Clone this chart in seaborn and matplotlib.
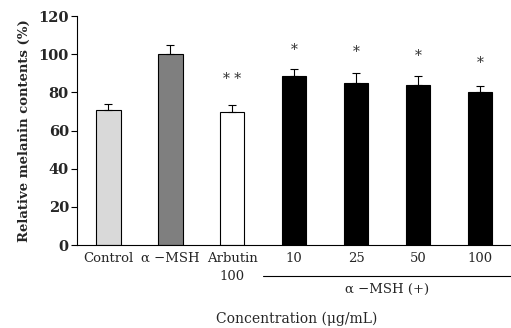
import matplotlib
matplotlib.use("Agg")
import matplotlib.pyplot as plt
import seaborn as sns
import pandas as pd
import numpy as np

categories = ["Control", "α −MSH", "Arbutin\n100", "10", "25", "50", "100"]
values = [71, 100, 69.5, 88.5, 85, 84, 80]
errors = [3, 5, 4, 3.5, 5, 4.5, 3.5]
bar_colors = ["#d9d9d9", "#7f7f7f", "#ffffff", "#000000", "#000000", "#000000", "#000000"]
sig_marks = ["", "", "* *", "*", "*", "*", "*"]
sig_y = [None, None, 87, 102, 101, 99, 95.5]
yticks = [0, 20, 40, 60, 80, 100, 120]

sns.set_style("white")
plt.rcParams["font.family"] = ["DejaVu Serif"]

df = pd.DataFrame({"cat": categories, "val": values})

fig = plt.figure(figsize=(5.11, 3.28), dpi=100)
ax = fig.add_axes([0.151, 0.253, 0.849, 0.698])

sns.barplot(data=df, x="cat", y="val", hue="cat", palette=bar_colors,
            legend=False, edgecolor="black", linewidth=0.8, width=0.4,
            errorbar=None, ax=ax, saturation=1)
xs = np.arange(len(categories))
ax.errorbar(xs, values, yerr=[np.zeros(len(errors)), errors], fmt="none",
            ecolor="black", elinewidth=0.8, capsize=3, capthick=0.8)

for x, m, y in zip(xs, sig_marks, sig_y):
    if m:
        ax.text(x, y, m, ha="center", va="center", fontsize=10, color="#333333")

ax.set_ylim(0, 120)
ax.set_xlim(-0.5, 6.5)
ax.set_yticks(yticks)
ax.set_yticklabels([str(t) for t in yticks], fontsize=10.5, fontweight="bold")
ax.set_xticks(xs)
ax.set_xticklabels(categories, fontsize=9.5, linespacing=1.5)
ax.tick_params(axis="x", which="major", length=0, pad=5)
ax.set_xticks(np.arange(-0.5, 6.5, 1.0), minor=True)
ax.tick_params(axis="x", which="minor", length=4, width=0.8, direction="out", color="black")
ax.tick_params(axis="y", length=4, width=0.8, direction="out", color="black", pad=2, left=True)
ax.set_xlabel("")
ax.set_ylabel("Relative melanin contents (%)", fontsize=9.5, fontweight="bold", labelpad=5)
for s in ["top", "right"]:
    ax.spines[s].set_visible(False)
for s in ["left", "bottom"]:
    ax.spines[s].set_color("black")
    ax.spines[s].set_linewidth(0.8)

# group line and label
ax.plot([2.5, 6.5], [-0.135 * 120, -0.135 * 120], color="black", lw=0.8, clip_on=False,
        transform=ax.transData)
ax.text(4.5, -0.195 * 120, "α −MSH (+)", ha="center", va="center", fontsize=9.5)
fig.text(0.58, 0.028, "Concentration (μg/mL)", ha="center", va="center", fontsize=10)

fig.savefig("out.png", dpi=100)
